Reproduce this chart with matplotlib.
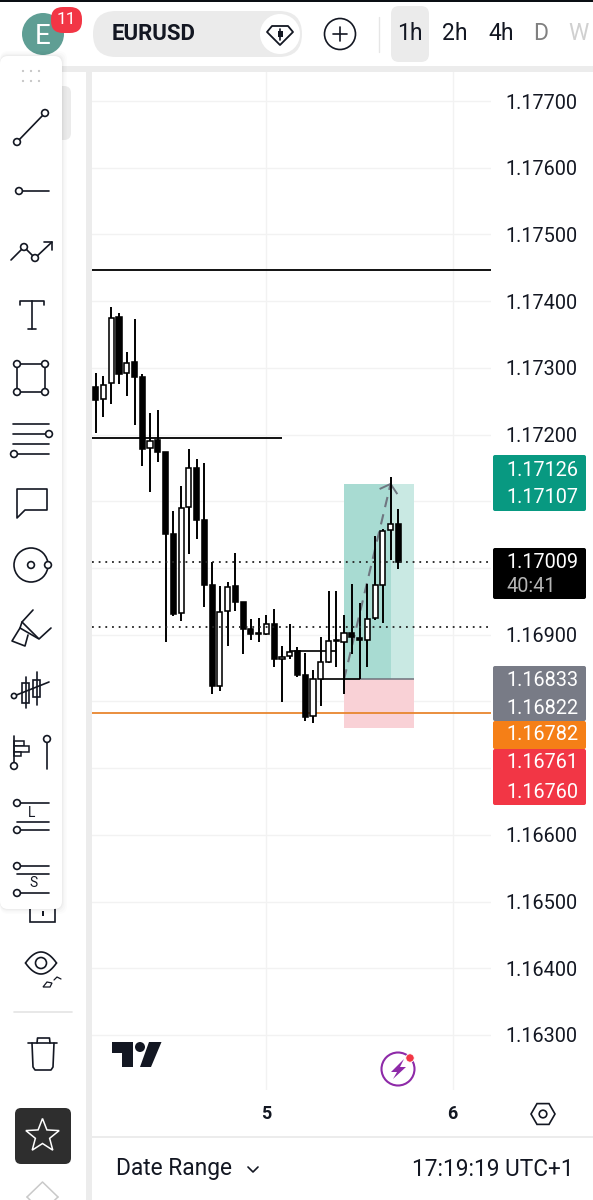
"""EURUSD 1h candles with a long position box, inside the mobile chart chrome."""
import numpy as np
import matplotlib
matplotlib.use("Agg")
import matplotlib.pyplot as plt
from matplotlib.patches import Circle, FancyBboxPatch, Polygon, Rectangle

plt.rcParams["font.family"] = ["Roboto", "DejaVu Sans"]

W, H = 593, 1200
INK = "#131722"

OPEN = [1.17271, 1.17253, 1.17277, 1.17376, 1.17292, 1.17309, 1.17286, 1.17180, 1.17192, 1.17174,
        1.17051, 1.16932, 1.17091, 1.17150, 1.17072, 1.16974, 1.16823, 1.16935, 1.16973, 1.16949,
        1.16908, 1.16902, 1.16901, 1.16916, 1.16864, 1.16868, 1.16875, 1.16840, 1.16778, 1.16834,
        1.16859, 1.16892, 1.16889, 1.16902, 1.16895, 1.16892, 1.16925, 1.16974, 1.17057, 1.17066]
HIGH = [1.17292, 1.17288, 1.17391, 1.17382, 1.17324, 1.17373, 1.17291, 1.17232, 1.17237, 1.17174,
        1.17085, 1.17123, 1.17178, 1.17163, 1.17157, 1.17009, 1.16973, 1.16979, 1.17022, 1.16949,
        1.16923, 1.16925, 1.16929, 1.16938, 1.16883, 1.16916, 1.16881, 1.16873, 1.16847, 1.16896,
        1.16965, 1.16965, 1.16929, 1.16976, 1.16947, 1.16976, 1.17048, 1.17058, 1.17136, 1.17088]
LOW = [1.17202, 1.17226, 1.17246, 1.17276, 1.17258, 1.17214, 1.17153, 1.17114, 1.17159, 1.16889,
       1.16928, 1.16920, 1.17021, 1.17043, 1.16941, 1.16811, 1.16816, 1.16883, 1.16935, 1.16871,
       1.16892, 1.16889, 1.16900, 1.16852, 1.16799, 1.16864, 1.16837, 1.16771, 1.16768, 1.16793,
       1.16858, 1.16852, 1.16811, 1.16871, 1.16834, 1.16852, 1.16922, 1.16917, 1.17012, 1.16998]
CLOSE = [1.17252, 1.17274, 1.17375, 1.17291, 1.17307, 1.17286, 1.17178, 1.17190, 1.17174, 1.17051,
         1.16931, 1.17090, 1.17150, 1.17072, 1.16974, 1.16823, 1.16934, 1.16971, 1.16949, 1.16908,
         1.16901, 1.16901, 1.16916, 1.16864, 1.16867, 1.16874, 1.16840, 1.16777, 1.16834, 1.16859,
         1.16890, 1.16890, 1.16902, 1.16896, 1.16892, 1.16923, 1.16974, 1.17055, 1.17066, 1.17009]

PRICE_TICKS = [1.17700, 1.17600, 1.17500, 1.17400, 1.17300, 1.17200, 1.17100, 1.17000,
               1.16900, 1.16800, 1.16700, 1.16600, 1.16500, 1.16400, 1.16300]
HIDDEN_TICKS = [1.17100, 1.17000, 1.16800, 1.16700]
DAY_TICKS = [22, 46]
DAY_LABELS = ["5", "6"]

LEVEL_TOP = 1.17447
LEVEL_MID = 1.17195
LEVEL_MID_END = 24
LEVEL_ORANGE = 1.16782
DOTTED = [1.17009, 1.16911]
STEPS = [(1.16875, 25, 31), (1.16834, 29, 34)]

POS_START, POS_NOW, POS_END = 32, 38, 41
POS_TARGET, POS_ENTRY, POS_STOP = 1.17126, 1.16833, 1.16760

# stacked price tags on the right scale: text, centre row, text colour
TAG_BOXES = [("#089981", 455, 511), ("#000000", 548, 599), ("#787b86", 666, 721),
             ("#f57f17", 721, 749), ("#f23645", 749, 805)]
TAG_TEXTS = [("1.17126", 470, "w"), ("1.17107", 497.5, "w"), ("1.17009", 563, "w"), ("40:41", 586, "#b5b5b5"),
             ("1.16833", 680, "w"), ("1.16822", 708, "w"), ("1.16782", 735, "w"),
             ("1.16761", 763, "w"), ("1.16760", 792, "w")]

fig = plt.figure(figsize=(W / 100, H / 100), dpi=100, facecolor="w")

# chart pane
ax = fig.add_axes([92 / W, (H - 1090) / H, 399 / W, 1018 / H], zorder=1)
ax.set_xlim(-0.477, 50.94)
ax.set_ylim(1.162175, 1.177435)
for sp in ax.spines.values():
    sp.set_visible(False)
ax.set_yticks(PRICE_TICKS)
ax.set_yticklabels(["" if p in HIDDEN_TICKS else f"{p:.5f}" for p in PRICE_TICKS], fontsize=14.3, color=INK)
ax.yaxis.tick_right()
ax.tick_params(axis="y", length=0, pad=10.3)
ax.set_xticks(DAY_TICKS)
ax.set_xticklabels(DAY_LABELS, fontsize=13, fontweight="bold", color=INK)
ax.tick_params(axis="x", length=0, pad=11)
ax.grid(color="#f2f2f2", lw=1)
ax.set_axisbelow(True)

# long position box
span = POS_END - POS_START
ax.add_patch(Rectangle((POS_START, POS_ENTRY), span, POS_TARGET - POS_ENTRY, fc="#c9e9e3", ec="none", zorder=2))
ax.add_patch(Rectangle((POS_START, POS_ENTRY), POS_NOW - POS_START, POS_TARGET - POS_ENTRY, fc="#a8dbd2", ec="none", zorder=2))
ax.add_patch(Rectangle((POS_START, POS_STOP), span, POS_ENTRY - POS_STOP, fc="#f9d1d6", ec="none", zorder=2))
ax.hlines(POS_ENTRY, POS_START, POS_END, color="#6f737d", lw=1.1, zorder=3)
ax.plot([POS_START, POS_NOW], [POS_ENTRY, POS_TARGET], color="#6f7680", lw=1.5, ls=(0, (5, 3.5)), zorder=3)
ax.plot([POS_NOW - 1.3, POS_NOW, POS_NOW + 0.8], [POS_TARGET - 0.00007, POS_TARGET, POS_TARGET - 0.00014],
        color="#6f7680", lw=1.4, zorder=3)

# levels
ax.axhline(LEVEL_TOP, color="#111111", lw=1.4, zorder=3)
ax.hlines(LEVEL_MID, -0.477, LEVEL_MID_END, color="#111111", lw=1.4, zorder=3)
ax.axhline(LEVEL_ORANGE, color="#e8862e", lw=1.3, zorder=3)
for price, i0, i1 in STEPS:
    ax.hlines(price, i0, i1, color="#111111", lw=1.3, zorder=3)

# candles: black body falling, white body rising
x = np.arange(len(OPEN))
op, hi, lo, cl = map(np.array, (OPEN, HIGH, LOW, CLOSE))
ax.vlines(x, lo, hi, color="k", lw=1.4, zorder=4)
ax.bar(x, np.abs(cl - op), bottom=np.minimum(op, cl), width=0.66,
       color=["k" if c < o else "w" for o, c in zip(op, cl)], edgecolor="k", linewidth=1.15, zorder=5)

for price in DOTTED:
    ax.axhline(price, color="#222222", lw=1.3, ls=(0, (1, 2.7)), zorder=6)

# interface layer, one unit = one pixel
ui = fig.add_axes([0, 0, 1, 1], zorder=5)
ui.set_xlim(0, W)
ui.set_ylim(H, 0)
ui.axis("off")
ui.patch.set_alpha(0)


def rbox(x0, y0, x1, y1, r, **kw):
    ui.add_patch(FancyBboxPatch((x0 + r, y0 + r), x1 - x0 - 2 * r, y1 - y0 - 2 * r,
                                boxstyle=f"round,pad={r},rounding_size={r}", **kw))


def line(xs, ys, color=INK, lw=1.2, **kw):
    ui.plot(xs, ys, color=color, lw=lw, solid_capstyle="round", solid_joinstyle="round", **kw)


def knob(cx, cy, r=3.4):
    ui.add_patch(Circle((cx, cy), r, fc="w", ec=INK, lw=1.2, zorder=4))


# panes and separators
ui.add_patch(Rectangle((0, 66), W, 6, fc="#ececec", ec="none"))
ui.add_patch(Rectangle((86, 66), 6, H - 66, fc="#ececec", ec="none"))
ui.add_patch(Rectangle((92, 1136), W - 92, 2, fc="#ececec", ec="none"))
ui.add_patch(Rectangle((0, 0), W, 2, fc="#0a0f14", ec="none"))

# header
ui.add_patch(Circle((43, 34), 21, fc="#5f9e94", ec="none"))
ui.text(43, 37, "E", color="w", fontsize=20, ha="center", va="center")
rbox(51, 7, 82, 33, 12, fc="#f23645", ec="none", zorder=3)
ui.text(66.5, 20, "11", color="w", fontsize=12.5, ha="center", va="center", zorder=4)
rbox(93, 11, 302, 57, 23, fc="#ebebeb", ec="none")
ui.text(112, 33.5, "EURUSD", color=INK, fontsize=16, fontweight="bold", va="center")
ui.add_patch(Circle((280, 34), 20, fc="w", ec="none"))
ui.add_patch(Polygon([(267, 32), (272, 26), (288, 26), (293, 32), (280, 45)], fc="w", ec=INK, lw=1.3, joinstyle="round"))
line([280, 280], [29, 40])
ui.add_patch(Rectangle((277.5, 31), 5, 6, fc=INK, ec="none"))
ui.add_patch(Circle((340, 34), 15.5, fc="w", ec=INK, lw=1.2))
line([333, 347], [34, 34])
line([340, 340], [27, 41])
line([379, 379], [17, 52], color="#e6e6e6", lw=1)
rbox(391, 6, 429, 62, 8, fc="#ebebeb", ec="none")
for label, tx, col in [("1h", 410, INK), ("2h", 455, INK), ("4h", 501, INK), ("D", 541, "#808080"), ("W", 578, "#d0d0d0")]:
    ui.text(tx, 34, label, color=col, fontsize=16.5, ha="center", va="center")

# price tags
for col, y0, y1 in TAG_BOXES:
    rbox(493, y0, 586, y1, 2, fc=col, ec="none")
for label, row, col in TAG_TEXTS:
    ui.text(506, row, label, color=col, fontsize=14.3, va="center", zorder=3)

# tool panel
ui.add_patch(Rectangle((30, 905), 25, 17, fc="w", ec=INK, lw=1.2))
ui.add_patch(Rectangle((41.5, 911), 2, 5, fc=INK, ec="none"))
rbox(50, 86, 71, 140, 7, fc="#ebebeb", ec="none")
for grow, alpha in [(5, 0.012), (3.5, 0.016), (2, 0.02), (1, 0.025)]:
    rbox(0, 56 - grow, 62 + grow, 909 + grow, 8, fc="k", ec="none", alpha=alpha)
rbox(0, 56, 62, 909, 8, fc="w", ec="none")
for gx in (23, 31, 39):
    for gy in (71, 81):
        ui.add_patch(Circle((gx, gy), 1.1, fc="#c4c4c4", ec="none"))

# line tools
line([17, 45], [142, 113])
knob(17, 142); knob(45, 113)
line([19, 49], [191, 191])
knob(19, 191)
line([11, 24, 35, 52], [260, 247, 258, 242])
line([44, 52, 52], [242, 242, 250])
knob(24, 247); knob(35, 258)
line([20, 20, 44, 44], [305, 301, 301, 305])
line([32, 32], [301, 329])
line([28, 36], [329, 329])
ui.add_patch(Rectangle((17, 364), 28, 28, fc="w", ec=INK, lw=1.2))
for cx, cy in [(17, 364), (45, 364), (17, 392), (45, 392)]:
    knob(cx, cy)
line([13, 49], [424, 424])
line([13, 47], [434, 434])
knob(49, 434)
line([13, 49], [444, 444])
line([16, 49], [454, 454])
knob(14, 454)
ui.add_patch(Polygon([(17, 489), (47, 489), (47, 510), (25, 510), (17, 518)], fc="w", ec=INK, lw=1.2, joinstyle="round"))
ui.add_patch(Circle((31, 565), 17, fc="w", ec=INK, lw=1.2))
knob(31, 565); knob(48, 565)
line([33, 22, 20, 39, 51], [610, 622, 628, 639, 628])
line([20, 12, 25, 28], [628, 641, 646, 635])
line([22, 38], [622, 638])

# candle, forecast and position tools
line([14, 49], [696, 682])
knob(14, 696, 2.6)
for cx, top, bot, y0, y1 in [(25.5, 677, 708, 683, 703), (36.5, 672, 705, 680, 697)]:
    line([cx, cx], [top, bot])
    ui.add_patch(Rectangle((cx - 3.5, y0), 7, y1 - y0, fc="none", ec=INK, lw=1.2, zorder=3))
line([14, 14], [736, 766])
for x1, y0, y1 in [(24, 741, 746), (29, 746, 752), (21, 752, 756)]:
    ui.add_patch(Rectangle((14, y0), x1 - 14, y1 - y0, fc="w", ec=INK, lw=1.1))
knob(14, 766)
line([47, 47], [739, 769])
knob(47, 739)
line([17, 49], [803, 803])
line([17, 49], [822, 822])
line([17, 49], [830, 830])
knob(17, 803); knob(17, 830)
ui.text(32, 813, "L", color=INK, fontsize=10, ha="center", va="center")
line([17, 49], [866, 866])
line([17, 49], [874, 874])
line([17, 49], [893, 893])
knob(17, 866); knob(17, 893)
ui.text(33, 883, "S", color=INK, fontsize=10, ha="center", va="center")

# lower tools
t = np.linspace(-1, 1, 40)
line(41 + 15.5 * t, 963 - 11 * (1 - t ** 2), lw=1.2)
line(41 + 15.5 * t, 963 + 11 * (1 - t ** 2), lw=1.2)
ui.add_patch(Circle((41, 963), 5.5, fc="w", ec=INK, lw=1.2))
ui.add_patch(Polygon([(43, 987), (47, 982), (52, 983), (50, 987)], fc="w", ec=INK, lw=0.9))
line([54, 57, 61], [980, 977, 979], lw=0.9)
line([14, 72], [1012, 1012], color="#e4e4e4", lw=1.2)
line([28, 57], [1043, 1043])
line([37, 37.5, 49.5, 50], [1043, 1038, 1038, 1043])
line([32, 33, 35, 51, 53, 54], [1043, 1067, 1070, 1070, 1067, 1043])
rbox(15, 1108, 71, 1164, 6, fc="#2e2e2e", ec="none")
ang = np.pi / 2 + np.arange(10) * np.pi / 5
rad = np.where(np.arange(10) % 2 == 0, 17.5, 7.5)
ui.add_patch(Polygon(np.c_[42.5 + rad * np.cos(ang), 1136 - rad * np.sin(ang)], fc="none", ec="w", lw=1.1))
line([27, 42.5, 58], [1197, 1182, 1197], color="#c9c9c9", lw=1.1)
line([27, 42, 58], [1197, 1212, 1197], color="#c9c9c9", lw=1.1)

# chart logo and badges
ui.add_patch(Polygon([(112, 1042), (133, 1042), (133, 1067), (122, 1067), (122, 1053), (112, 1053)], fc="#131722", ec="none"))
ui.add_patch(Circle((140, 1047), 5, fc="#131722", ec="none"))
ui.add_patch(Polygon([(149, 1042), (161.5, 1042), (151, 1067), (140, 1067)], fc="#131722", ec="none"))
ui.add_patch(Circle((398, 1069), 16.5, fc="w", ec="#8e2aa8", lw=1.5))
ui.add_patch(Polygon([(404, 1059), (391, 1072), (397, 1072), (393, 1079), (406, 1067), (400, 1067)], fc="#8e2aa8", ec="none"))
ui.add_patch(Circle((410, 1058), 4.2, fc="#f23645", ec="w", lw=0.6))
ang = np.arange(6) * np.pi / 3
ui.add_patch(Polygon(np.c_[543 + 12 * np.cos(ang), 1114 + 12 * np.sin(ang)], fc="w", ec=INK, lw=1.2))
ui.add_patch(Circle((543, 1114), 3.8, fc="w", ec=INK, lw=1.2))

# footer
ui.text(116, 1169, "Date Range", color=INK, fontsize=16.4, va="center")
line([248, 253, 258], [1167, 1172, 1167])
ui.text(574, 1169, "17:19:19 UTC+1", color=INK, fontsize=16.3, ha="right", va="center")

fig.savefig("out.png", dpi=100)
